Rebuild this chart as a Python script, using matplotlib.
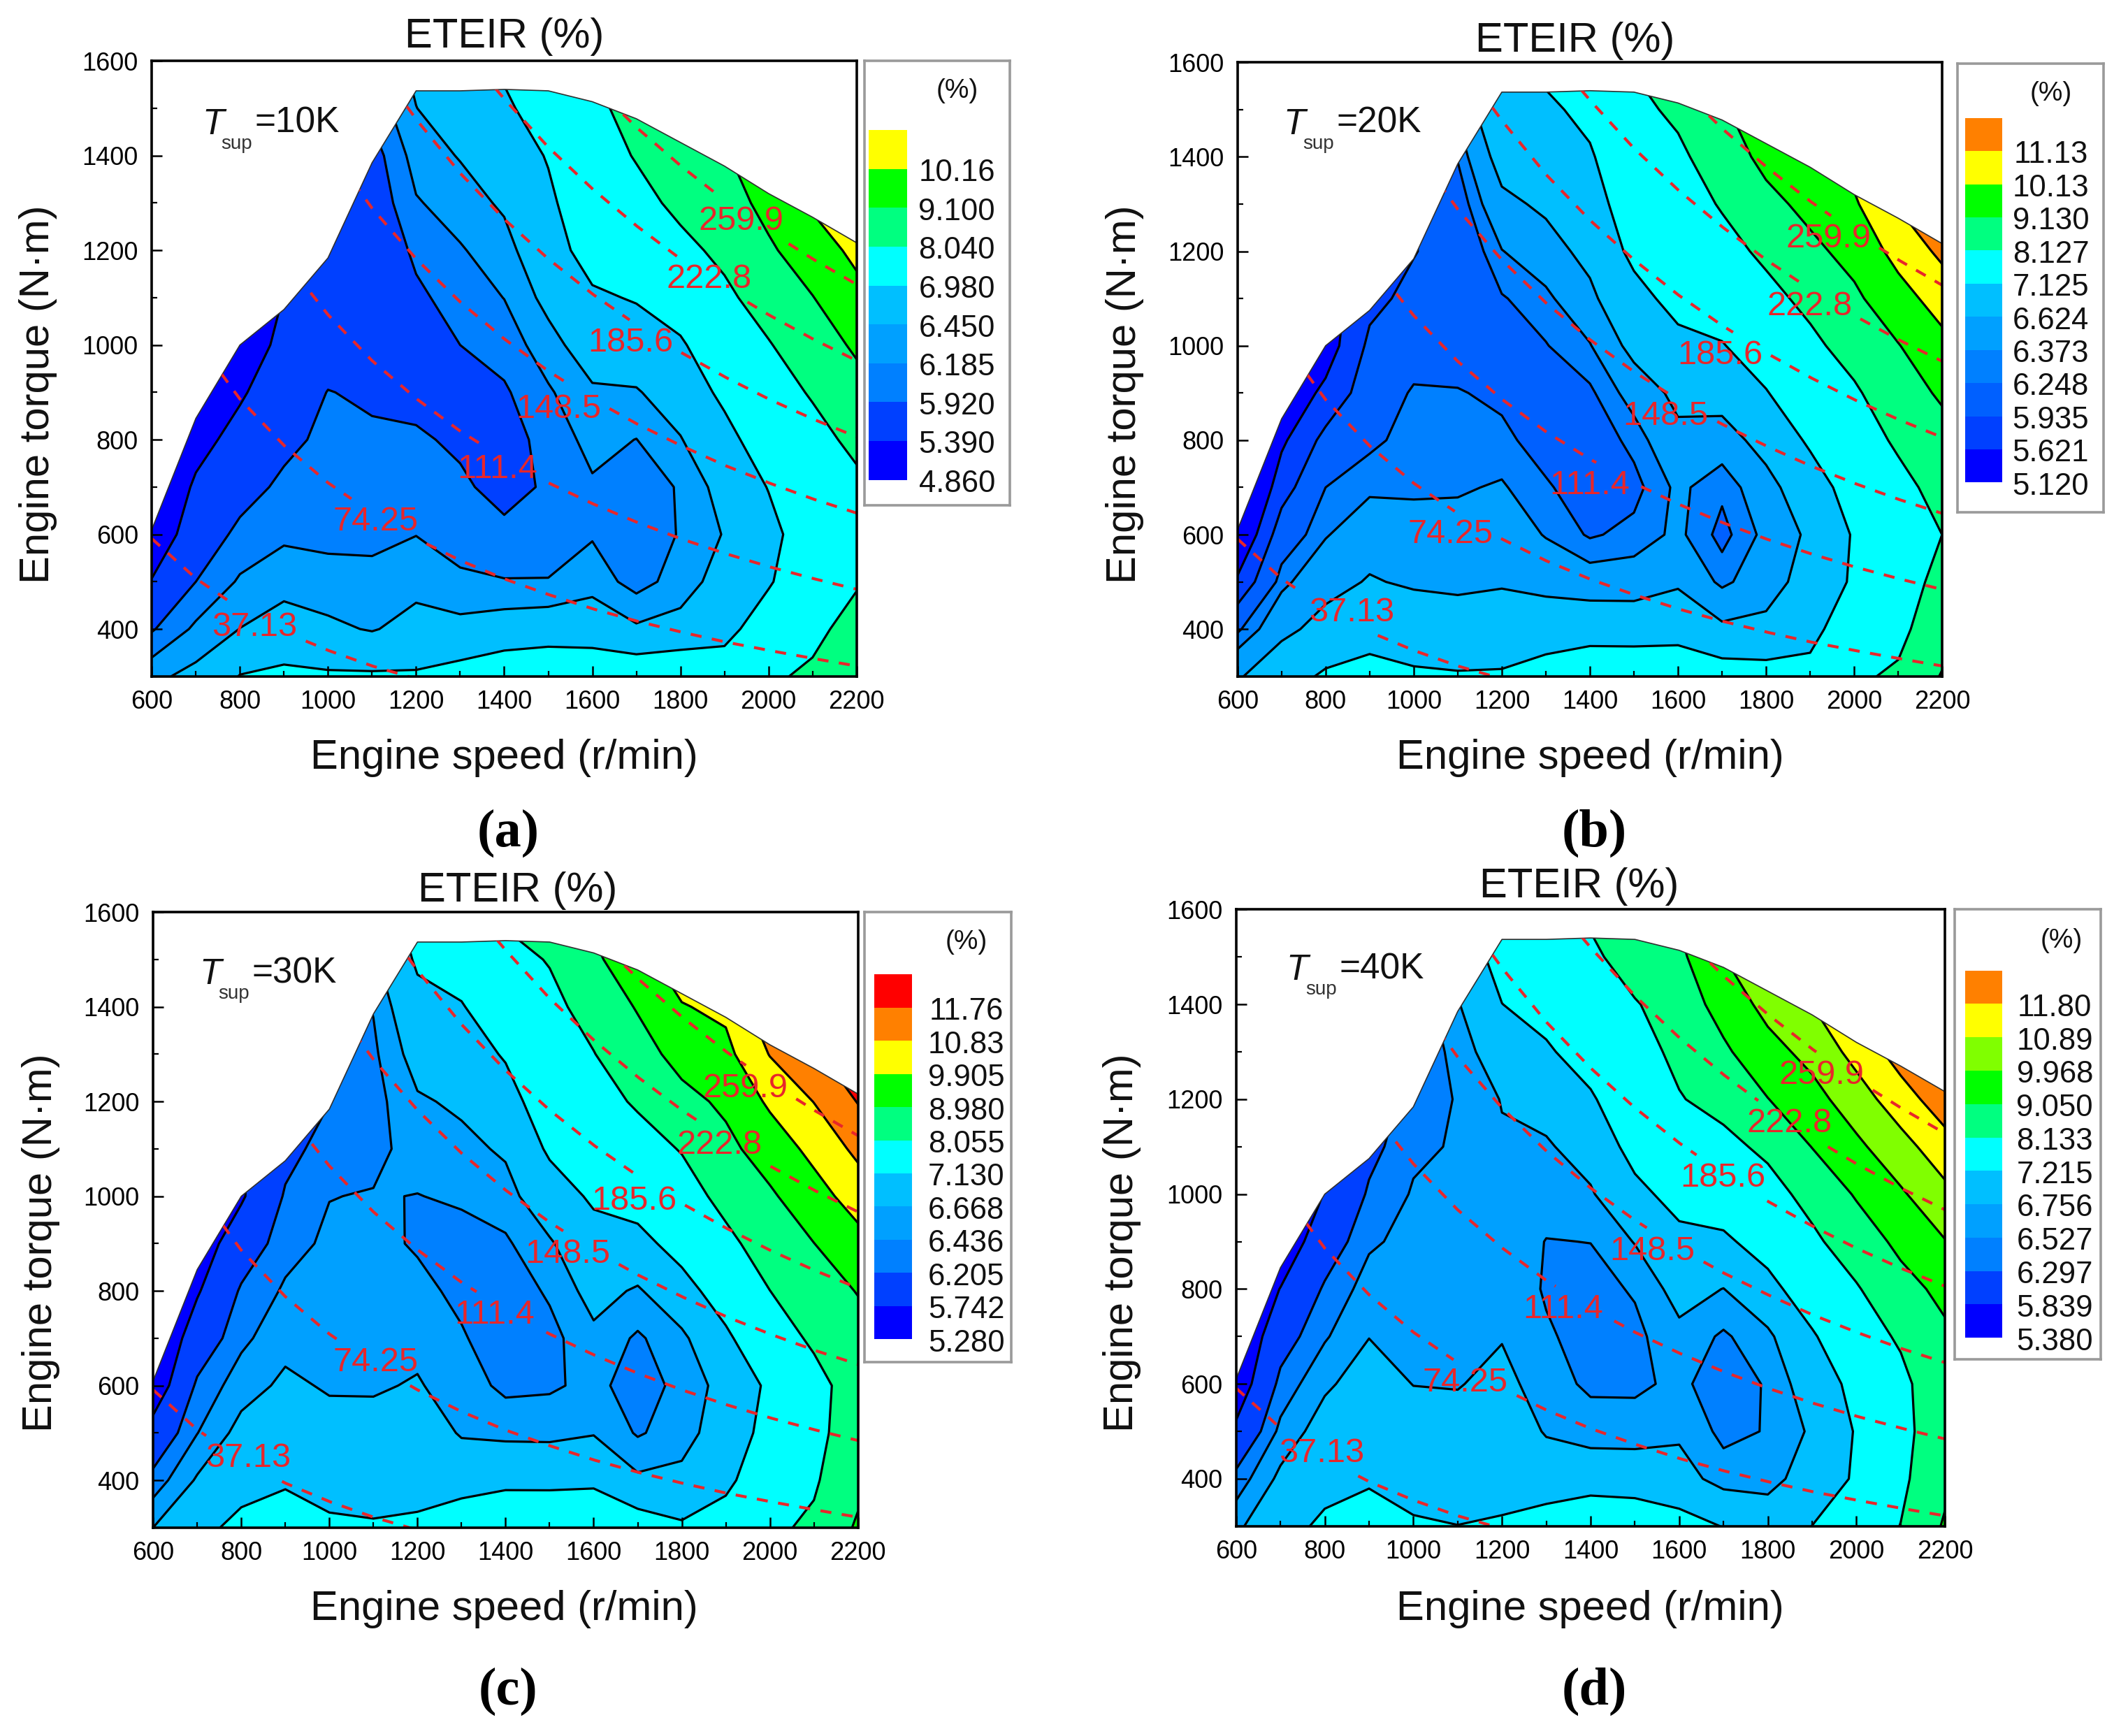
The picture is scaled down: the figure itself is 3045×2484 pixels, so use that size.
import numpy as np
import matplotlib
matplotlib.use("Agg")
import matplotlib.pyplot as plt
from matplotlib.patches import Polygon
from matplotlib.ticker import MultipleLocator

plt.rcParams['font.family'] = ['Liberation Sans', 'DejaVu Sans']

W, H = 3045, 2484
S = 3045 / 1570.0

speed = [600, 700, 800, 900, 1000, 1100, 1200, 1300, 1400, 1500, 1600, 1700, 1800, 1900, 2000, 2100, 2200]
torque_rows = [300, 400, 500, 600, 700, 800, 900, 1000, 1100, 1200, 1300, 1400, 1500, 1600]
envelope = [610, 845, 1000, 1075, 1184, 1385, 1537, 1537, 1540, 1537, 1514, 1478, 1428, 1378, 1320, 1270, 1216]

# ETEIR values, one list per engine speed, rising torque
eteir_a = [
 [6.38,5.89,5.42,5.0,4.9],
 [6.54,6.24,5.92,5.69,5.46,5.23,5.0],
 [7.0,6.455,6.22,6.0,5.78,5.55,5.33,5.1],
 [7.1,6.62,6.33,6.14,5.99,5.83,5.68,5.52,5.4],
 [7.05,6.53,6.25,6.14,6.07,6.0,5.93,5.75,5.6,5.45],
 [7.05,6.42,6.25,6.13,6.05,5.97,5.87,5.75,5.65,5.65,5.7,5.78,6.0],
 [7.04,6.6,6.33,6.18,6.05,5.96,5.83,5.78,5.86,5.98,6.16,6.30,6.44,6.6],
 [7.2,6.55,6.23,6.08,5.97,5.87,5.82,5.92,6.04,6.16,6.31,6.47,6.8,7.0],
 [7.4,6.63,6.2,5.99,5.82,5.78,5.88,6.04,6.19,6.33,6.5,6.65,6.87,7.1],
 [7.5,6.67,6.2,6.02,5.96,6.03,6.15,6.33,6.55,6.75,6.87,7.02,7.3,7.6],
 [7.4,6.7,6.33,6.16,6.15,6.27,6.4,6.65,6.9,7.2,7.4,7.6,7.8,8.0],
 [7.4,6.5,6.08,6.05,6.1,6.18,6.42,6.7,7.02,7.35,7.75,8.1,8.4,8.7],
 [7.5,6.57,6.3,6.2,6.2,6.43,6.65,6.9,7.3,7.8,8.25,8.6,8.9,9.1],
 [7.3,6.8,6.6,6.47,6.6,6.8,7.1,7.45,7.85,8.25,8.65,9.0,9.3,9.6],
 [7.9,7.3,6.92,6.82,7.0,7.3,7.65,7.98,8.45,8.95,9.4,9.8,10.1,10.4],
 [8.2,7.8,7.45,7.3,7.45,7.75,8.12,8.6,9.07,9.65,10.3,10.8,11.2,11.6],
 [8.9,8.4,7.95,7.8,7.85,8.25,8.75,9.25,9.85,10.4,10.9,11.4,11.8,12.2],
]
eteir_b = [
 [6.58,6.22,5.68,5.25,5.0],
 [6.9,6.53,6.33,6.11,5.80,5.56,5.35],
 [7.2,6.75,6.51,6.36,6.248,6.03,5.70,5.45],
 [7.3,6.93,6.65,6.49,6.343,6.21,6.11,6.0,5.85],
 [7.2,6.85,6.58,6.44,6.35,6.31,6.27,6.15,6.02,5.92],
 [7.17,6.79,6.56,6.44,6.355,6.31,6.26,6.15,6.08,6.08,6.15,6.26,6.4],
 [7.18,6.83,6.59,6.5,6.39,6.29,6.21,6.15,6.235,6.366,6.55,6.75,6.95,7.1],
 [7.4,6.81,6.54,6.36,6.27,6.17,6.15,6.24,6.33,6.5,6.68,6.85,7.0,7.3],
 [7.6,6.86,6.47,6.23,6.15,6.15,6.22,6.36,6.55,6.72,6.88,7.05,7.3,7.7],
 [7.6,6.85,6.47,6.29,6.2,6.29,6.45,6.72,6.95,7.25,7.45,7.7,7.9,8.2],
 [7.6,6.88,6.58,6.41,6.41,6.55,6.7,6.98,7.3,7.5,7.7,7.95,8.3,8.7],
 [7.4,6.68,6.33,6.2,6.28,6.47,6.77,7.09,7.45,7.83,8.2,8.6,9.0,9.5],
 [7.35,6.7,6.5,6.42,6.5,6.76,7.09,7.48,7.87,8.3,8.85,9.4,9.8,10.2],
 [7.3,6.95,6.75,6.68,6.88,7.2,7.6,7.93,8.35,8.9,9.4,9.95,10.4,10.8],
 [8.0,7.5,7.2,7.17,7.35,7.65,8.0,8.48,8.95,9.45,10.0,10.5,11.0,11.5],
 [8.25,7.9,7.7,7.6,7.85,8.27,8.7,9.09,9.75,10.45,11.2,11.9,12.4,12.8],
 [9.2,8.7,8.4,8.13,8.45,8.8,9.26,9.85,10.55,11.35,12.0,12.5,13.0,13.4],
]
eteir_c = [
 [6.668,6.30,5.92,5.45,5.3],
 [7.0,6.70,6.43,6.26,5.97,5.7,5.5],
 [7.25,6.97,6.76,6.56,6.38,6.245,5.99,5.69],
 [7.3,7.09,6.91,6.72,6.59,6.47,6.35,6.24,6.1],
 [7.2,6.98,6.77,6.64,6.58,6.53,6.48,6.43,6.33,6.2],
 [7.17,6.96,6.76,6.64,6.6,6.55,6.5,6.45,6.37,6.35,6.39,6.45,6.6],
 [7.18,7.03,6.86,6.69,6.6,6.5,6.41,6.43,6.53,6.63,6.8,6.98,7.2,7.5],
 [7.5,6.9,6.64,6.55,6.46,6.38,6.35,6.47,6.59,6.72,6.92,7.1,7.35,7.65],
 [7.7,6.98,6.6,6.38,6.3,6.3,6.4,6.56,6.71,6.95,7.17,7.45,7.8,8.2],
 [7.8,6.95,6.6,6.4,6.36,6.47,6.63,6.9,7.2,7.4,7.6,7.85,8.1,8.5],
 [7.75,7.0,6.65,6.5,6.6,6.78,6.95,7.2,7.5,7.75,8.03,8.35,8.8,9.2],
 [7.4,6.72,6.41,6.33,6.4,6.63,6.97,7.35,7.73,8.15,8.6,9.05,9.6,10.0],
 [7.2,6.75,6.55,6.5,6.6,6.93,7.33,7.7,8.1,8.7,9.3,9.85,10.4,10.9],
 [7.4,7.0,6.85,6.78,7.03,7.4,7.85,8.3,8.75,9.15,9.65,10.1,10.6,11.1],
 [7.9,7.55,7.3,7.22,7.6,8.05,8.45,8.85,9.4,10.05,10.87,11.5,12.0,12.5],
 [8.2,7.95,7.8,7.75,8.2,8.55,8.97,9.55,10.15,10.85,11.6,12.2,12.7,13.2],
 [9.1,8.75,8.55,8.5,8.65,9.02,9.6,10.3,11.05,11.8,12.5,13.0,13.5,14.0],
]
eteir_d = [
 [6.69,6.39,5.93,5.55,5.4],
 [7.05,6.82,6.59,6.38,6.14,5.85,5.55],
 [7.3,7.07,6.89,6.71,6.5,6.34,6.09,5.85],
 [7.35,7.18,7.04,6.89,6.75,6.63,6.49,6.34,6.2],
 [7.26,7.07,6.9,6.75,6.7,6.65,6.6,6.55,6.48,6.35],
 [7.22,7.04,6.87,6.74,6.7,6.66,6.62,6.58,6.55,6.55,6.6,6.73,6.9],
 [7.25,7.1,6.97,6.84,6.74,6.7,6.66,6.68,6.72,6.77,6.98,7.21,7.4,7.7],
 [7.45,6.95,6.73,6.63,6.56,6.5,6.52,6.62,6.72,6.88,7.15,7.4,7.6,7.9],
 [7.7,6.95,6.65,6.48,6.43,6.45,6.53,6.72,6.9,7.15,7.45,7.7,7.95,8.3],
 [7.6,6.95,6.64,6.48,6.47,6.55,6.77,7.09,7.38,7.62,7.85,8.07,8.55,9.0],
 [7.4,6.9,6.7,6.58,6.68,6.87,7.09,7.38,7.72,8.09,8.3,8.55,8.85,9.2],
 [7.2,6.63,6.47,6.4,6.49,6.75,7.12,7.52,7.92,8.38,8.9,9.4,9.95,10.5],
 [6.95,6.66,6.54,6.55,6.69,7.04,7.45,7.83,8.3,9.03,9.65,10.25,10.8,11.3],
 [7.22,6.9,6.8,6.95,7.15,7.55,7.97,8.4,9.07,9.65,10.25,10.9,11.4,11.9],
 [7.6,7.28,7.25,7.35,7.7,8.06,8.58,9.13,9.78,10.45,11.2,11.9,12.4,12.9],
 [8.15,7.95,7.85,7.9,8.25,8.75,9.25,9.85,10.55,11.4,12.2,12.8,13.3,13.8],
 [9.15,8.85,8.75,8.8,8.9,9.27,9.93,10.65,11.45,12.3,13.0,13.5,14.0,14.5],
]

labels_a = ['4.860','5.390','5.920','6.185','6.450','6.980','8.040','9.100','10.16']
labels_b = ['5.120','5.621','5.935','6.248','6.373','6.624','7.125','8.127','9.130','10.13','11.13']
labels_c = ['5.280','5.742','6.205','6.436','6.668','7.130','8.055','8.980','9.905','10.83','11.76']
labels_d = ['5.380','5.839','6.297','6.527','6.756','7.215','8.133','9.050','9.968','10.89','11.80']

colors_a = ['#0000ff','#0040ff','#0080ff','#00a0ff','#00bfff','#00ffff','#00ff80','#00ff00','#ffff00']
colors_b = ['#0000ff','#0040ff','#0060ff','#0080ff','#00a0ff','#00bfff','#00ffff','#00ff80','#00ff00','#ffff00','#ff8000']
colors_c = ['#0000ff','#0040ff','#0080ff','#00a0ff','#00bfff','#00ffff','#00ff80','#00ff00','#ffff00','#ff8000','#ff0000']
colors_d = ['#0000ff','#0040ff','#0080ff','#00a0ff','#00bfff','#00ffff','#00ff80','#00ff00','#80ff00','#ffff00','#ff8000']

power_names = ['37.13','74.25','111.4','148.5','185.6','222.8','259.9']
power_speed = [
 [600,700,800,900,1000,1100,1200],
 [700,800,900,1000,1100,1200,1300,1400,1500,1600,1700,1800,1900,2000,2100,2200],
 [900,1000,1100,1200,1300,1400,1500,1600,1700,1800,1900,2000,2100,2200],
 [1000,1100,1200,1300,1400,1500,1600,1700,1800,1900,2000,2100,2200],
 [1150,1200,1300,1400,1500,1600,1700,1800,1900,2000,2100,2200],
 [1380,1400,1500,1600,1700,1800,1900,2000,2100,2200],
 [1600,1700,1800,1900,2000,2100,2200],
]
power_torque = [
 [591,507,443,394,355,322,295],
 [1013,886,788,709,645,591,545,506,473,443,417,394,373,355,338,322],
 [1182,1064,967,887,818,760,709,665,626,591,560,532,507,484],
 [1418,1289,1182,1091,1013,945,886,834,788,746,709,675,645],
 [1541,1477,1363,1266,1182,1108,1043,985,933,886,844,806],
 [1542,1520,1418,1330,1252,1182,1120,1064,1013,967],
 [1551,1460,1379,1306,1241,1182,1128],
]

panels = [
 dict(tag='a', sup='10K', z=eteir_a, lab=labels_a, col=colors_a, box=(112,632,45,499),
      leg=(638,745,45,373), bar=(641,669,96,354), pct=(706,67), title=(372,27), xl=(372,559), yl=(28,291),
      cap=(375,615), txt=(149,92), lx=(706,0),
      plab=[(188,463),(277,385),(367,346),(412,302),(465,253),(523,206),(547,163)]),
 dict(tag='b', sup='20K', z=eteir_b, lab=labels_b, col=colors_b, box=(913,1433,46,499),
      leg=(1444,1552,47,378), bar=(1450,1477,87,356), pct=(1513,69), title=(1162,30), xl=(1173,559), yl=(830,291),
      cap=(1176,615), txt=(947,92), lx=(1513,0),
      plab=[(997,452),(1070,394),(1173,358),(1229,307),(1269,262),(1335,226),(1349,176)]),
 dict(tag='c', sup='30K', z=eteir_c, lab=labels_c, col=colors_c, box=(113,633,673,1127),
      leg=(638,746,673,1005), bar=(645,673,719,988), pct=(713,695), title=(382,657), xl=(372,1187), yl=(30,917),
      cap=(375,1248), txt=(147,719), lx=(713,0),
      plab=[(183,1076),(277,1005),(365,970),(419,925),(468,886),(531,845),(550,803)]),
 dict(tag='d', sup='40K', z=eteir_d, lab=labels_d, col=colors_d, box=(912,1435,671,1126),
      leg=(1442,1550,671,1003), bar=(1450,1477,716,987), pct=(1521,694), title=(1165,654), xl=(1173,1187), yl=(828,917),
      cap=(1176,1248), txt=(949,716), lx=(1516,0),
      plab=[(975,1072),(1081,1020),(1153,966),(1219,923),(1271,869),(1320,829),(1344,793)]),
]

fig = plt.figure(figsize=(W/100, H/100), dpi=100, facecolor='white')

def fx(x): return x*S/W
def fy(y): return 1 - y*S/H

def rect(x0, x1, y0, y1):
    return [fx(x0), fy(y1), fx(x1)-fx(x0), fy(y0)-fy(y1)]

RED = '#e8262a'
for p in panels:
    L, R, T, B = p['box']
    ax = fig.add_axes(rect(L, R, T, B))
    Z = np.array([list(c) + [c[-1]]*(len(torque_rows)-len(c)) for c in p['z']], float).T
    bounds = [0.0] + [float(s) for s in p['lab'][1:]] + [99.0]
    clip_pts = [(speed[0], 300)] + list(zip(speed, envelope)) + [(speed[-1], 300)]
    clip = Polygon(clip_pts, closed=True, transform=ax.transData, fc='none', ec='none')
    ax.add_patch(clip)
    cf = ax.contourf(speed, torque_rows, Z, levels=bounds, colors=p['col'])
    cl = ax.contour(speed, torque_rows, Z, levels=bounds[1:-1], colors='black', linewidths=2.3)
    cf.set_clip_path(clip)
    cl.set_clip_path(clip)
    ax.plot(speed, envelope, color='#303030', lw=1.2, zorder=3, clip_on=True)
    ax.set_xlim(600, 2200)
    ax.set_ylim(300, 1600)
    ax.xaxis.set_major_locator(MultipleLocator(200))
    ax.xaxis.set_minor_locator(MultipleLocator(100))
    ax.yaxis.set_major_locator(MultipleLocator(200))
    ax.yaxis.set_minor_locator(MultipleLocator(100))
    ax.tick_params(which='major', direction='in', length=11, width=1.8, labelsize=26, pad=14, top=False, right=False)
    ax.tick_params(which='minor', direction='in', length=6, width=1.6, top=False, right=False)
    for s in ax.spines.values():
        s.set_linewidth(2.6)
        s.set_zorder(6)

    # constant power lines, with a break where each label sits
    for name, xs, ys, (tx, ty) in zip(power_names, power_speed, power_torque, p['plab']):
        xd = 600 + (tx-L)/(R-L)*1600
        yd = 300 + (B-ty)/(B-T)*1300
        fine_x = np.linspace(xs[0], xs[-1], 600)
        fine_y = np.interp(fine_x, xs, ys)
        hide = (np.abs(fine_x-xd) < 115) & (np.abs(fine_y-yd) < 48)
        fine_y = np.where(hide, np.nan, fine_y)
        line, = ax.plot(fine_x, fine_y, color=RED, lw=3.0, dashes=(3.8, 3.6), zorder=4)
        line.set_clip_path(clip)
        fig.text(fx(tx), fy(ty), name, color=RED, fontsize=35, ha='center', va='center', zorder=8)

    fig.text(fx(p['title'][0]), fy(p['title'][1]), 'ETEIR (%)', fontsize=43, ha='center', va='center', color='#111111')
    fig.text(fx(p['xl'][0]), fy(p['xl'][1]), 'Engine speed (r/min)', fontsize=43, ha='center', va='center', color='#111111')
    fig.text(fx(p['yl'][0]), fy(p['yl'][1]), 'Engine torque (N\u00b7m)', fontsize=43, rotation=90, ha='center', va='center', color='#111111')
    fig.text(fx(p['cap'][0]), fy(p['cap'][1]), f"({p['tag']})", fontsize=55, fontweight='bold',
             family=['Liberation Serif'], ha='center', va='center', color='black')

    tx, ty = p['txt']
    fig.text(fx(tx), fy(ty), 'T', fontsize=37, style='italic', ha='left', va='center', color='#111111')
    fig.text(fx(tx+14), fy(ty+14), 'sup', fontsize=20, ha='left', va='center', color='#333333')
    fig.text(fx(tx+39), fy(ty-1), '=' + p['sup'], fontsize=37, ha='left', va='center', color='#111111')

    # legend box
    x0, x1, y0, y1 = p['leg']
    box = fig.add_axes(rect(x0, x1, y0, y1), zorder=0)
    box.set_xticks([]); box.set_yticks([])
    for s in box.spines.values():
        s.set_color('#9a9a9a'); s.set_linewidth(2.6)
    bx0, bx1, by0, by1 = p['bar']
    bar = fig.add_axes(rect(bx0, bx1, by0, by1), zorder=1)
    n = len(p['col'])
    bar.bar(np.zeros(n), np.ones(n), bottom=np.arange(n), width=1, color=p['col'], align='center')
    bar.set_xlim(-0.5, 0.5); bar.set_ylim(0, n)
    bar.axis('off')
    h = (by1-by0)/n
    for i, s in enumerate(p['lab']):
        fig.text(fx(p['lx'][0]), fy(by1 - i*h + 3), s, fontsize=31.5, ha='center', va='center', color='#111111')
    fig.text(fx(p['pct'][0]), fy(p['pct'][1]), '(%)', fontsize=28, ha='center', va='center', color='#111111')

fig.savefig('out.png', dpi=100, facecolor='white')
